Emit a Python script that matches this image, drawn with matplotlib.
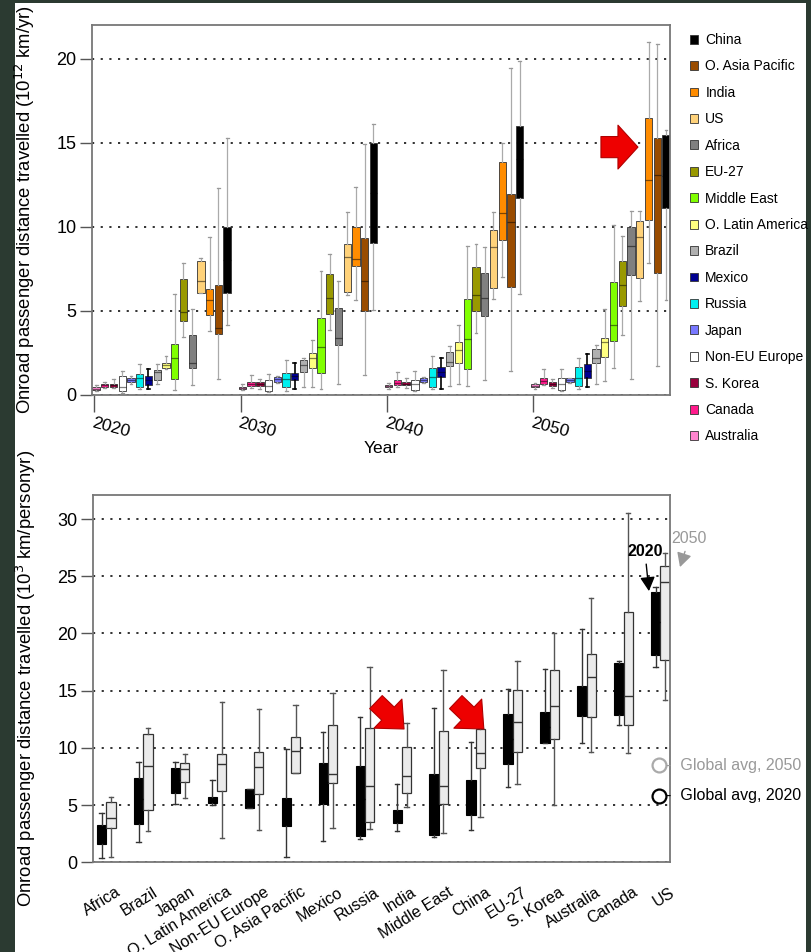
import numpy as np
import matplotlib.pyplot as plt
from matplotlib.patches import Patch, Rectangle

plt.rcParams['font.family'] = ['Liberation Sans', 'DejaVu Sans']

# regions in plotting order (left to right inside each decade)
regions = ["Australia", "Canada", "S. Korea", "Non-EU Europe", "Japan", "Russia",
           "Mexico", "Brazil", "O. Latin America", "Middle East", "EU-27", "Africa",
           "US", "India", "O. Asia Pacific", "China"]
colours = ["#ff85cf", "#ff1a8c", "#99003d", "#ffffff", "#7878ff", "#00f0f0",
           "#000090", "#b0b0b0", "#ffff80", "#80ff00", "#999900", "#808080",
           "#ffd27a", "#ff8c00", "#994c00", "#000000"]
years = [2020, 2030, 2040, 2050]

# whisker low, q1, median, q3, whisker high  (10^12 km/yr)
stats_2020 = [[0.20, 0.28, 0.35, 0.42, 0.55], [0.40, 0.47, 0.55, 0.63, 0.72],
              [0.40, 0.47, 0.55, 0.63, 0.90], [0.08, 0.18, 0.42, 1.10, 1.40],
              [0.65, 0.72, 0.85, 1.00, 1.10], [0.30, 0.45, 1.00, 1.25, 1.80],
              [0.30, 0.55, 0.85, 1.10, 1.50], [0.65, 0.85, 1.35, 1.45, 1.80],
              [1.50, 1.60, 1.75, 1.90, 2.30], [0.25, 0.95, 2.20, 3.00, 6.00],
              [3.40, 4.40, 4.94, 6.87, 7.80], [0.55, 1.60, 1.85, 3.55, 5.08],
              [6.03, 6.07, 6.73, 7.92, 8.15], [3.79, 4.74, 5.63, 6.27, 9.37],
              [0.93, 3.59, 3.95, 6.53, 12.3], [4.15, 6.03, 8.00, 10.0, 15.26]]
stats_2030 = [[0.25, 0.33, 0.40, 0.47, 0.60], [0.40, 0.48, 0.62, 0.77, 1.15],
              [0.35, 0.48, 0.60, 0.73, 0.95], [0.12, 0.22, 0.50, 0.87, 1.25],
              [0.70, 0.77, 0.90, 1.05, 1.10], [0.20, 0.42, 0.90, 1.30, 2.05],
              [0.30, 0.85, 1.10, 1.30, 1.85], [0.45, 1.35, 1.75, 2.05, 2.15],
              [0.45, 1.60, 2.20, 2.50, 3.25], [0.35, 1.30, 2.80, 4.54, 7.38],
              [3.85, 4.80, 5.73, 7.18, 8.37], [0.65, 2.96, 3.35, 5.14, 6.77],
              [5.93, 6.13, 8.21, 8.97, 10.85], [5.60, 7.68, 8.06, 10.0, 12.34],
              [1.17, 5.00, 6.77, 9.30, 14.92], [5.04, 9.05, 12.0, 15.0, 16.10]]
stats_2040 = [[0.30, 0.42, 0.50, 0.56, 0.70], [0.45, 0.54, 0.70, 0.87, 1.35],
              [0.40, 0.54, 0.65, 0.77, 1.00], [0.20, 0.28, 0.60, 0.87, 1.40],
              [0.70, 0.75, 0.88, 1.01, 1.05], [0.30, 0.42, 1.05, 1.57, 2.30],
              [0.32, 1.07, 1.35, 1.63, 2.16], [0.52, 1.67, 1.96, 2.56, 2.86],
              [0.63, 1.87, 2.66, 3.15, 4.15], [0.48, 1.51, 3.29, 5.69, 8.85],
              [3.65, 5.00, 5.93, 7.62, 8.97], [0.87, 4.68, 5.73, 7.22, 8.77],
              [5.69, 6.33, 8.81, 9.80, 10.85], [6.98, 9.20, 10.83, 13.87, 14.96],
              [1.41, 6.43, 10.3, 11.92, 19.46], [5.99, 11.69, 14.0, 15.99, 19.88]]
stats_2050 = [[0.35, 0.44, 0.50, 0.62, 0.70], [0.55, 0.63, 0.80, 0.97, 1.50],
              [0.40, 0.48, 0.60, 0.73, 0.95], [0.20, 0.28, 0.60, 0.97, 1.50],
              [0.70, 0.73, 0.85, 0.97, 1.00], [0.35, 0.48, 1.00, 1.63, 2.20],
              [0.44, 1.01, 1.40, 1.81, 2.40], [0.62, 1.90, 2.16, 2.70, 2.96],
              [0.81, 2.26, 3.15, 3.35, 5.08], [1.57, 3.21, 4.15, 6.67, 10.1],
              [3.55, 5.28, 6.49, 7.96, 9.44], [0.91, 7.12, 8.87, 10.0, 10.93],
              [5.54, 6.96, 9.37, 10.34, 10.93], [7.82, 10.4, 12.78, 16.49, 21.01],
              [1.67, 7.26, 13.04, 15.26, 20.85], [5.63, 11.09, 13.0, 15.46, 15.75]]

# per-person distance (10^3 km/personyr)
countries = ["Africa", "Brazil", "Japan", "O. Latin America", "Non-EU Europe",
             "O. Asia Pacific", "Mexico", "Russia", "India", "Middle East", "China",
             "EU-27", "S. Korea", "Australia", "Canada", "US"]
pc_2020 = [[0.35, 1.63, 2.30, 3.23, 4.28], [1.75, 3.35, 5.50, 7.34, 8.74],
           [5.07, 6.09, 7.20, 8.21, 8.74], [5.00, 5.16, 5.40, 5.68, 7.19],
           [4.72, 4.72, 5.60, 6.41, 6.41], [0.50, 3.18, 4.40, 5.65, 9.87],
           [1.89, 5.10, 7.00, 8.65, 11.36], [2.04, 2.33, 5.50, 8.42, 12.73],
           [2.77, 3.41, 4.00, 4.57, 6.85], [2.24, 2.39, 5.00, 7.69, 13.46],
           [2.83, 4.14, 5.60, 7.19, 10.49], [6.61, 8.56, 10.8, 12.96, 15.15],
           [10.4, 10.4, 11.8, 13.11, 16.87], [10.4, 12.79, 14.1, 15.41, 20.39],
           [12.0, 12.88, 15.0, 17.45, 17.60], [17.04, 18.12, 21.0, 23.60, 24.09]]
pc_2050 = [[0.50, 3.03, 3.90, 5.30, 5.74], [2.74, 4.57, 8.42, 11.21, 11.71],
           [5.59, 6.99, 8.16, 8.65, 9.47], [2.10, 6.26, 8.59, 9.44, 13.98],
           [2.83, 5.97, 8.30, 9.67, 13.40], [7.78, 7.78, 9.73, 10.98, 13.75],
           [2.97, 6.96, 7.72, 12.0, 14.77], [2.91, 3.50, 6.67, 11.71, 17.04],
           [4.80, 6.03, 7.54, 10.10, 12.15], [2.53, 5.10, 6.67, 11.48, 16.80],
           [3.93, 8.21, 9.53, 11.62, 11.77], [6.85, 9.61, 12.23, 15.06, 17.59],
           [5.01, 10.75, 13.69, 16.81, 20.01], [9.67, 12.73, 16.17, 18.18, 23.07],
           [9.53, 12.00, 14.56, 21.85, 30.50], [14.19, 17.68, 24.53, 25.93, 27.00]]
global_avg_2020 = 5.8
global_avg_2050 = 8.5


def to_bxp(rows):
    return [dict(whislo=r[0], q1=r[1], med=r[2], q3=r[3], whishi=r[4], fliers=[]) for r in rows]


fig = plt.figure(figsize=(8.11, 9.52), dpi=100, facecolor="#2b3a31")
fig.add_artist(Rectangle((15 / 811, 0), 791 / 811, 949 / 952, transform=fig.transFigure,
                         facecolor="white", edgecolor="none", zorder=-10))

dots = (0, (1.2, 3.6))

# ---------------- top panel ----------------
ax1 = fig.add_axes([92 / 811, 1 - 394.5 / 952, 578 / 811, 369.5 / 952])
offsets = 0.12 + 0.597 * np.arange(len(regions))
for yr, st in zip(years, [stats_2020, stats_2030, stats_2040, stats_2050]):
    out = ax1.bxp(to_bxp(st), positions=yr + offsets, widths=0.5, patch_artist=True,
                  showfliers=False, manage_ticks=False, capwidths=0.2,
                  boxprops=dict(lw=0.6, edgecolor="#333333"),
                  whiskerprops=dict(color="#aaaaaa", lw=0.9),
                  capprops=dict(color="#999999", lw=0.9),
                  medianprops=dict(color="#000000", lw=0.9, alpha=0.5))
    for b, c in zip(out["boxes"], colours):
        b.set_facecolor(c)
    i = regions.index("Mexico")
    for ln in out["whiskers"][2 * i:2 * i + 2] + out["caps"][2 * i:2 * i + 2]:
        ln.set_color("black")
        ln.set_linewidth(1.2)

ax1.set_yticks([0, 5, 10, 15, 20])
ax1.set_xticks(years)
ax1.set_xticklabels([str(y) for y in years], rotation=-15, ha="left", va="top",
                    rotation_mode="anchor")
ax1.set_xlim(2019.84, 2059.35)
ax1.set_ylim(0, 22.0)
ax1.yaxis.grid(True, linestyle=dots, color="#222222", lw=1.3)
ax1.set_axisbelow(True)
ax1.tick_params(axis="y", length=9, width=1, color="#555555", labelsize=13, pad=2)
ax1.tick_params(axis="x", length=12, width=1, color="#555555", labelsize=12.5, pad=3)
ax1.set_xlabel("Year", fontsize=12.5, labelpad=1)
ax1.set_ylabel("Onroad passenger distance travelled (10$^{12}$ km/yr)", fontsize=13.3)
ax1.yaxis.set_label_coords(-0.096, 0.5)
for s in ax1.spines.values():
    s.set_color("#777777")
    s.set_linewidth(1.3)

handles = [Patch(facecolor=c, edgecolor="#333333", lw=0.6) for c in colours[::-1]]
ax1.legend(handles, regions[::-1], loc="upper left", bbox_to_anchor=(690 / 811, 1 - 33 / 952),
           bbox_transform=fig.transFigure, frameon=False, fontsize=10,
           handlelength=0.6, handleheight=0.6, handletextpad=0.5,
           labelspacing=0.895, borderaxespad=0, borderpad=0)

ax1.annotate("", xy=(2057.16, 14.73), xytext=(2054.63, 14.73),
             arrowprops=dict(arrowstyle="simple,head_length=0.72,head_width=1.58,tail_width=0.76",
                             fc="#ee0000", ec="#b00000", lw=0.8, mutation_scale=20,
                             shrinkA=0, shrinkB=0))

# ---------------- bottom panel ----------------
ax2 = fig.add_axes([92.7 / 811, 1 - 862.3 / 952, 577.3 / 811, 367.3 / 952])
pos = np.arange(1, len(countries) + 1)
out20 = ax2.bxp(to_bxp(pc_2020), positions=pos - 0.127, widths=0.25, patch_artist=True,
                showfliers=False, manage_ticks=False, capwidths=0.12,
                boxprops=dict(lw=0.8, facecolor="black", edgecolor="black"),
                whiskerprops=dict(color="#333333", lw=1.0),
                capprops=dict(color="#333333", lw=1.0),
                medianprops=dict(color="black", lw=1.0))
out50 = ax2.bxp(to_bxp(pc_2050), positions=pos + 0.127, widths=0.25, patch_artist=True,
                showfliers=False, manage_ticks=False, capwidths=0.12,
                boxprops=dict(lw=0.9, facecolor="#ebebeb", edgecolor="#333333"),
                whiskerprops=dict(color="#555555", lw=1.0),
                capprops=dict(color="#555555", lw=1.0),
                medianprops=dict(color="#333333", lw=1.0))

ax2.plot([15.97], [global_avg_2050], "o", mfc="none", mec="#aaaaaa", ms=10, mew=1.6, clip_on=False)
ax2.plot([15.97], [global_avg_2020], "o", mfc="none", mec="black", ms=10, mew=1.6, clip_on=False)
ax2.text(16.14, global_avg_2050, "-  Global avg, 2050", color="#999999", fontsize=11.5,
         va="center", ha="left")
ax2.text(16.14, global_avg_2020, "-  Global avg, 2020", color="black", fontsize=11.5,
         va="center", ha="left")

ax2.annotate("2020", xy=(15.69, 23.7), xytext=(15.58, 27.2), ha="center", va="center",
             fontsize=11.5, fontweight="bold",
             arrowprops=dict(arrowstyle="-|>,head_length=0.85,head_width=0.45", color="black",
                             lw=1, shrinkA=2, shrinkB=0, mutation_scale=10))
ax2.annotate("2050", xy=(16.53, 25.8), xytext=(16.78, 28.3), ha="center", va="center",
             fontsize=11.5, color="#999999", annotation_clip=False,
             arrowprops=dict(arrowstyle="-|>,head_length=0.85,head_width=0.45", color="#999999",
                             lw=1, shrinkA=2, shrinkB=0, mutation_scale=10))

red = dict(arrowstyle="simple,head_length=0.8,head_width=1.45,tail_width=0.65",
           fc="#ee0000", ec="#b00000", lw=0.8, mutation_scale=20, shrinkA=0, shrinkB=0)
ax2.annotate("", xy=(9.06, 11.65), xytext=(8.30, 14.0), arrowprops=red)
ax2.annotate("", xy=(11.22, 11.65), xytext=(10.46, 14.0), arrowprops=red)

ax2.set_yticks([0, 5, 10, 15, 20, 25, 30])
# tick marks are hidden; labels sit a little right of each pair, as in the original
ax2.set_xticks(pos + 0.25)
ax2.set_xticklabels(countries, rotation=32, ha="right", va="top", rotation_mode="anchor")
ax2.set_xlim(0.632, 16.26)
ax2.set_ylim(0, 32.1)
ax2.yaxis.grid(True, linestyle=dots, color="#222222", lw=1.3)
ax2.set_axisbelow(True)
ax2.tick_params(axis="y", length=9, width=1, color="#555555", labelsize=13, pad=2)
ax2.tick_params(axis="x", length=0, labelsize=11.5, pad=16)
ax2.set_ylabel("Onroad passenger distance travelled (10$^{3}$ km/personyr)", fontsize=13.3)
ax2.yaxis.set_label_coords(-0.094, 0.5)
for s in ax2.spines.values():
    s.set_color("#777777")
    s.set_linewidth(1.3)

fig.savefig("out.png", dpi=100, facecolor=fig.get_facecolor())
